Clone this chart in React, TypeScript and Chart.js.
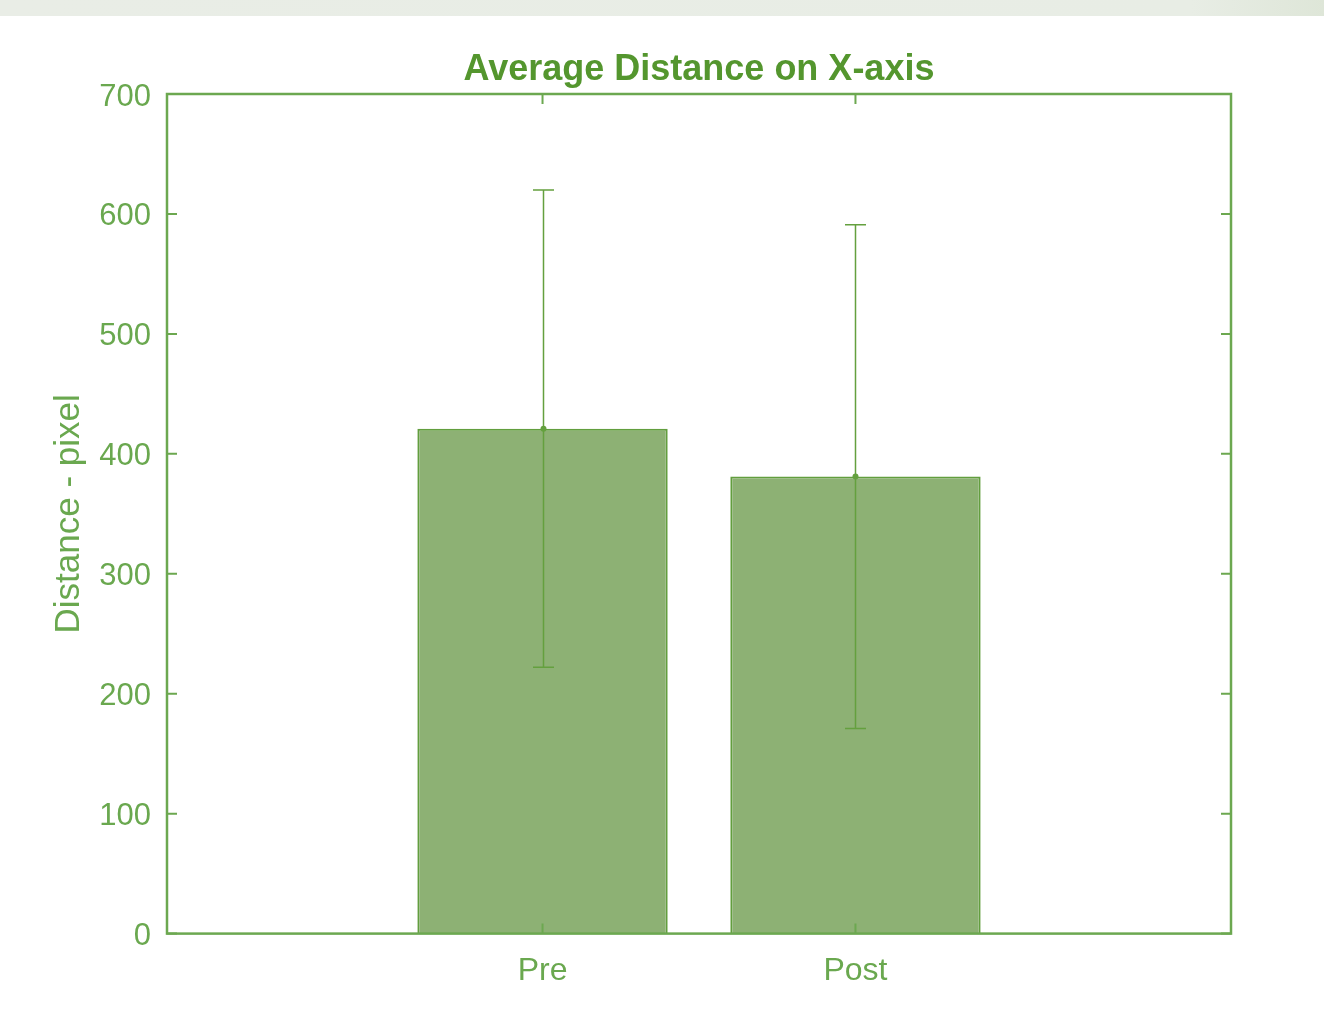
import React, { useEffect, useRef } from "react";
import { Chart, registerables } from "chart.js";

Chart.register(...registerables);

const titleText = "Average Distance on X-axis";
const yTitleText = "Distance - pixel";
const categories = ["Pre", "Post"];
const categoryPositions = [1, 2];
const means = [421, 381];
const errors = [199, 210];
const yMin = 0;
const yMax = 700;
const yStep = 100;
const xMin = -0.2;
const xMax = 3.2;

const TEXT = "rgb(106,168,79)";
const TITLE = "rgb(84,150,46)";
const FRAME = "rgb(108,168,80)";
const BAR_FILL = "rgb(141,177,116)";
const BAR_EDGE = "rgb(98,158,62)";
const ERR = "rgb(100,160,62)";
const FONT = "'Liberation Sans', Arial, Helvetica, sans-serif";

const backgroundPlugin = {
  id: "bgBand",
  beforeDraw(chart: any) {
    const { ctx, width, height } = chart;
    ctx.save();
    ctx.fillStyle = "#ffffff";
    ctx.fillRect(0, 0, width, height);
    const g = ctx.createLinearGradient(0, 0, width, 0);
    g.addColorStop(0, "rgb(233,237,230)");
    g.addColorStop(0.9, "rgb(232,237,229)");
    g.addColorStop(1, "rgb(222,230,216)");
    ctx.fillStyle = g;
    ctx.fillRect(0, 0, width, 16);
    ctx.restore();
  },
};

const errorFramePlugin = {
  id: "errorFrame",
  afterDatasetsDraw(chart: any) {
    const { ctx, chartArea } = chart;
    const xs = chart.scales.x;
    const ys = chart.scales.y;
    const { left, right, top, bottom } = chartArea;
    ctx.save();
    // title centred over the plot box
    ctx.fillStyle = TITLE;
    ctx.font = `bold 36px ${FONT}`;
    ctx.textAlign = "center";
    ctx.textBaseline = "middle";
    ctx.fillText(titleText, (left + right) / 2, 70);
    // y tick labels (drawn slightly lower, as in the reference)
    ctx.fillStyle = TEXT;
    ctx.font = `31px ${FONT}`;
    ctx.textAlign = "right";
    ys.ticks.forEach((t: any) => {
      const py = ys.getPixelForValue(t.value);
      ctx.fillText(String(t.value), left - 16, py + 3);
    });
    // error bars
    ctx.strokeStyle = ERR;
    ctx.fillStyle = ERR;
    ctx.lineWidth = 1.5;
    means.forEach((m, i) => {
      const px = Math.round(xs.getPixelForValue(categoryPositions[i])) + 0.5;
      const t = ys.getPixelForValue(m + errors[i]);
      const b = ys.getPixelForValue(m - errors[i]);
      const mid = ys.getPixelForValue(m);
      ctx.beginPath();
      ctx.moveTo(px, t);
      ctx.lineTo(px, b);
      ctx.moveTo(px - 10.5, t);
      ctx.lineTo(px + 10.5, t);
      ctx.moveTo(px - 10.5, b);
      ctx.lineTo(px + 10.5, b);
      ctx.stroke();
      ctx.beginPath();
      ctx.arc(px, mid, 3, 0, Math.PI * 2);
      ctx.fill();
    });
    // frame
    ctx.strokeStyle = FRAME;
    ctx.lineWidth = 2.5;
    ctx.strokeRect(left, top, right - left, bottom - top);
    // inward ticks
    ctx.lineWidth = 2;
    for (let v = yMin; v <= yMax; v += yStep) {
      const py = ys.getPixelForValue(v);
      ctx.beginPath();
      ctx.moveTo(left, py);
      ctx.lineTo(left + 10, py);
      ctx.moveTo(right, py);
      ctx.lineTo(right - 10, py);
      ctx.stroke();
    }
    categoryPositions.forEach((c) => {
      const px = xs.getPixelForValue(c);
      ctx.beginPath();
      ctx.moveTo(px, top);
      ctx.lineTo(px, top + 10);
      ctx.moveTo(px, bottom);
      ctx.lineTo(px, bottom - 10);
      ctx.stroke();
    });
    ctx.restore();
  },
};

export default function App() {
  const ref = useRef<HTMLCanvasElement | null>(null);

  useEffect(() => {
    if (!ref.current) return;
    const chart = new Chart(ref.current, {
      type: "bar",
      data: {
        datasets: [
          {
            label: "Average Distance",
            data: categoryPositions.map((x, i) => ({ x, y: means[i] })),
            backgroundColor: BAR_FILL,
            borderColor: BAR_EDGE,
            borderWidth: 2,
            borderSkipped: "start",
            barPercentage: 0.8,
            categoryPercentage: 1,
          } as any,
        ],
      },
      options: {
        responsive: false,
        animation: false,
        devicePixelRatio: 1,
        layout: { padding: { left: 0, right: 93, top: 94, bottom: 17 } },
        plugins: {
          legend: { display: false },
          tooltip: { enabled: false },
          title: { display: false },
        },
        scales: {
          x: {
            type: "linear",
            min: xMin,
            max: xMax,
            offset: false,
            grid: { display: false, drawTicks: false },
            border: { display: false },
            afterBuildTicks: (s: any) => {
              s.ticks = categoryPositions.map((v) => ({ value: v }));
            },
            ticks: {
              autoSkip: false,
              maxRotation: 0,
              padding: 18,
              color: TEXT,
              font: { family: FONT, size: 32 },
              callback: (v: any) => {
                const i = categoryPositions.indexOf(Number(v));
                return i >= 0 ? categories[i] : "";
              },
            },
          },
          y: {
            type: "linear",
            min: yMin,
            max: yMax,
            grid: { display: false, drawTicks: false },
            border: { display: false },
            afterFit: (s: any) => {
              s.width = 167;
            },
            ticks: {
              stepSize: yStep,
              padding: 16,
              color: "rgba(0,0,0,0)",
              font: { family: FONT, size: 31 },
            },
            title: {
              display: true,
              text: yTitleText,
              color: TEXT,
              font: { family: FONT, size: 35 },
              padding: { top: 48, bottom: 0 },
            },
          },
        },
      } as any,
      plugins: [backgroundPlugin, errorFramePlugin],
    });
    return () => chart.destroy();
  }, []);

  return (
    <div style={{ position: "absolute", left: 0, top: 0, width: 1324, height: 1025 }}>
      <canvas ref={ref} width={1324} height={1025} style={{ display: "block" }} />
    </div>
  );
}
